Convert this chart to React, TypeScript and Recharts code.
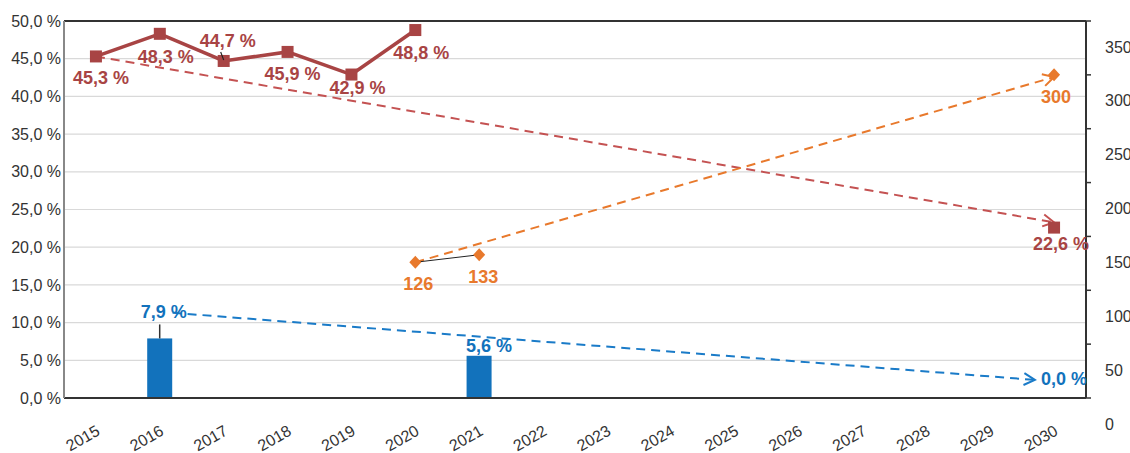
import React from 'react';
import {
  ComposedChart,
  Bar,
  Line,
  XAxis,
  YAxis,
  CartesianGrid,
  ReferenceLine,
  LabelList,
} from 'recharts';

const years = [2015, 2016, 2017, 2018, 2019, 2020, 2021, 2022, 2023, 2024, 2025, 2026, 2027, 2028, 2029, 2030];
const redShare = [45.3, 48.3, 44.7, 45.9, 42.9, 48.8, null, null, null, null, null, null, null, null, null, null];
const redGoal = [null, null, null, null, null, null, null, null, null, null, null, null, null, null, null, 22.6];
const blueShare = [null, 7.9, null, null, null, null, 5.6, null, null, null, null, null, null, null, null, null];
const blueGoal = [null, null, null, null, null, null, null, null, null, null, null, null, null, null, null, 0];
const orangeCount = [null, null, null, null, null, 126, 133, null, null, null, null, null, null, null, null, null];
const orangeGoal = [null, null, null, null, null, null, null, null, null, null, null, null, null, null, null, 300];

// dashed trend arrows (start / end)
const redTrendX = [2015, 2030];
const redTrendY = [45.3, 23.3];
const orangeTrendX = [2020, 2030];
const orangeTrendY = [126, 298];
const blueTrendX = [2016.2, 2029.7];
const blueTrendY = [11.3, 2.4];

const leftTicks = [0, 5, 10, 15, 20, 25, 30, 35, 40, 45, 50];
const rightTicks = [0, 50, 100, 150, 200, 250, 300, 350];

const RED = '#a84444';
const RED_DASH = '#c45252';
const BLUE = '#1272bc';
const BLUE_DASH = '#1a7bc8';
const ORANGE = '#e8792c';
const FONT = '"Liberation Sans", Arial, sans-serif';

const xs = Array.from(new Set([...years, ...redTrendX, ...orangeTrendX, ...blueTrendX])).sort((a, b) => a - b);
const data = xs.map((x) => {
  const row: any = { x };
  const i = years.indexOf(x);
  if (i >= 0) {
    row.red = redShare[i];
    row.redGoal = redGoal[i];
    row.blue = blueShare[i];
    row.blueGoal = blueGoal[i];
    row.orange = orangeCount[i];
    row.orangeGoal = orangeGoal[i];
  }
  const r = redTrendX.indexOf(x);
  if (r >= 0) row.redTrend = redTrendY[r];
  const o = orangeTrendX.indexOf(x);
  if (o >= 0) row.orangeTrend = orangeTrendY[o];
  const b = blueTrendX.indexOf(x);
  if (b >= 0) row.blueTrend = blueTrendY[b];
  return row;
});

const pct = (v: number) => v.toFixed(1).replace('.', ',') + ' %';

const squareDot = (color: string) => (p: any) => {
  if (p.value == null || p.cy == null) return <g key={`sq-${p.index}`} />;
  return <rect key={`sq-${p.index}`} x={p.cx - 6} y={p.cy - 6} width={12} height={12} fill={color} />;
};

const diamondDot = (p: any) => {
  if (p.value == null || p.cy == null) return <g key={`dm-${p.index}`} />;
  const { cx, cy } = p;
  return (
    <polygon
      key={`dm-${p.index}`}
      points={`${cx},${cy - 6.5} ${cx + 6},${cy} ${cx},${cy + 6.5} ${cx - 6},${cy}`}
      fill={ORANGE}
    />
  );
};

const BarShape = (p: any) => {
  if (p.height == null || p.height <= 0) return <g />;
  const cx = p.x + p.width / 2;
  return <rect x={cx - 12.5} y={p.y} width={25} height={p.height} fill={BLUE} />;
};

// label offsets keyed by the value shown
const redOffsets: Record<string, [number, number]> = {
  '45.3': [5, 28],
  '48.3': [6, 29],
  '44.7': [4, -14],
  '45.9': [5, 28],
  '42.9': [6, 19],
  '48.8': [6, 29],
  '22.6': [7, 22],
};
const orangeOffsets: Record<string, [number, number]> = {
  '126': [3, 28],
  '133': [4, 28],
  '300': [2, 28],
};
const blueOffsets: Record<string, [number, number]> = {
  '7.9': [4, -20],
  '5.6': [10, -4],
  '0': [10, 0],
};

const pointLabel = (color: string, offsets: Record<string, [number, number]>, fmt: (v: number) => string) => (p: any) => {
  if (p.value == null || p.y == null) return null;
  const [dx, dy] = offsets[String(p.value)] || [0, -10];
  return (
    <g>
      {p.value === 44.7 && <line x1={p.x - 3} y1={p.y - 9} x2={p.x} y2={p.y - 1} stroke="#222" strokeWidth={1.2} />}
      <text x={p.x + dx} y={p.y + dy} textAnchor="middle" fill={color} fontSize={18} fontWeight="bold" fontFamily={FONT}>
        {fmt(p.value)}
      </text>
    </g>
  );
};

const barLabel = (p: any) => {
  if (p.value == null) return null;
  const cx = p.x + p.width / 2;
  const top = p.y;
  const [dx, dy] = blueOffsets[String(p.value)] || [0, -6];
  return (
    <g>
      {p.value === 7.9 && <line x1={cx} y1={top} x2={cx} y2={top - 14} stroke="#333" strokeWidth={1.5} />}
      <text x={cx + dx} y={top + dy} textAnchor="middle" fill={BLUE} fontSize={18} fontWeight="bold" fontFamily={FONT}>
        {pct(p.value)}
      </text>
    </g>
  );
};

const XTick = (p: any) => {
  const x = p.x + 5;
  const y = p.y + 36;
  return (
    <text x={x} y={y} textAnchor="end" transform={`rotate(-30, ${x}, ${y})`} fill="#333" fontSize={16} fontFamily={FONT}>
      {p.payload.value}
    </text>
  );
};

const LeftTick = (p: any) => (
  <text x={p.x - 3} y={p.y} dy="0.35em" textAnchor="end" fill="#333" fontSize={16} fontFamily={FONT}>
    {pct(p.payload.value)}
  </text>
);

const RightTick = (p: any) => (
  <text x={p.x + 14} y={p.y + 26} dy="0.35em" textAnchor="start" fill="#333" fontSize={16} fontFamily={FONT}>
    {p.payload.value}
  </text>
);

const arrowMarker = (id: string, color: string) => (
  <marker
    id={id}
    viewBox="-13 -8 15 16"
    refX={0}
    refY={0}
    markerWidth={15}
    markerHeight={16}
    markerUnits="userSpaceOnUse"
    orient="auto"
  >
    <path d="M-11,-6 L0,0 L-11,6" fill="none" stroke={color} strokeWidth={2} />
  </marker>
);

export default function App() {
  return (
    <div style={{ position: 'absolute', left: 0, top: 0 }}>
      <svg width={0} height={0} style={{ position: 'absolute' }}>
        <defs>
          {arrowMarker('arrow-red', RED_DASH)}
          {arrowMarker('arrow-orange', ORANGE)}
          {arrowMarker('arrow-blue', BLUE_DASH)}
        </defs>
      </svg>
      <ComposedChart width={1130} height={453} data={data} margin={{ top: 21, right: 0, bottom: 0, left: 0 }}>
        <CartesianGrid yAxisId="left" horizontal vertical={false} stroke="#d9d9d9" strokeWidth={1.2} />
        <XAxis
          dataKey="x"
          type="number"
          domain={[2014.5, 2030.5]}
          ticks={years}
          interval={0}
          height={55}
          tick={<XTick />}
          tickLine={false}
          tickSize={0}
          tickMargin={0}
          axisLine={{ stroke: '#333', strokeWidth: 2 }}
        />
        <YAxis
          yAxisId="left"
          domain={[0, 50]}
          ticks={leftTicks}
          interval={0}
          width={64}
          tick={<LeftTick />}
          tickLine={false}
          tickSize={0}
          tickMargin={0}
          axisLine={{ stroke: '#888', strokeWidth: 2 }}
        />
        <YAxis
          yAxisId="right"
          orientation="right"
          domain={[0, 350]}
          ticks={rightTicks}
          interval={0}
          width={44}
          tick={<RightTick />}
          tickSize={5}
          tickMargin={0}
          tickLine={{ stroke: '#333', strokeWidth: 1.5 }}
          axisLine={{ stroke: '#333', strokeWidth: 2 }}
        />
        <ReferenceLine yAxisId="left" y={50} stroke="#333" strokeWidth={2} />

        <Bar yAxisId="left" dataKey="blue" fill={BLUE} shape={BarShape} isAnimationActive={false}>
          <LabelList dataKey="blue" content={barLabel} />
        </Bar>

        <Line
          yAxisId="left"
          dataKey="blueTrend"
          stroke={BLUE_DASH}
          strokeWidth={2}
          strokeDasharray="9 6"
          connectNulls
          dot={false}
          markerEnd="url(#arrow-blue)"
          isAnimationActive={false}
        />
        <Line
          yAxisId="left"
          dataKey="redTrend"
          stroke={RED_DASH}
          strokeWidth={2}
          strokeDasharray="9 6"
          connectNulls
          dot={false}
          markerEnd="url(#arrow-red)"
          isAnimationActive={false}
        />
        <Line
          yAxisId="right"
          dataKey="orangeTrend"
          stroke={ORANGE}
          strokeWidth={2}
          strokeDasharray="9 6"
          connectNulls
          dot={false}
          markerEnd="url(#arrow-orange)"
          isAnimationActive={false}
        />

        <Line
          yAxisId="left"
          dataKey="red"
          stroke={RED}
          strokeWidth={3.5}
          connectNulls
          dot={squareDot(RED)}
          isAnimationActive={false}
        >
          <LabelList dataKey="red" content={pointLabel(RED, redOffsets, pct)} />
        </Line>
        <Line
          yAxisId="left"
          dataKey="redGoal"
          stroke="none"
          dot={squareDot(RED)}
          isAnimationActive={false}
        >
          <LabelList dataKey="redGoal" content={pointLabel(RED, redOffsets, pct)} />
        </Line>
        <Line
          yAxisId="left"
          dataKey="blueGoal"
          stroke="none"
          dot={false}
          isAnimationActive={false}
        >
          <LabelList dataKey="blueGoal" content={pointLabel(BLUE, { '0': [10, -13] }, pct)} />
        </Line>

        <Line
          yAxisId="right"
          dataKey="orange"
          stroke="#222"
          strokeWidth={1}
          connectNulls
          dot={diamondDot}
          isAnimationActive={false}
        >
          <LabelList dataKey="orange" content={pointLabel(ORANGE, orangeOffsets, (v) => String(v))} />
        </Line>
        <Line
          yAxisId="right"
          dataKey="orangeGoal"
          stroke="none"
          dot={diamondDot}
          isAnimationActive={false}
        >
          <LabelList dataKey="orangeGoal" content={pointLabel(ORANGE, orangeOffsets, (v) => String(v))} />
        </Line>
      </ComposedChart>
    </div>
  );
}
